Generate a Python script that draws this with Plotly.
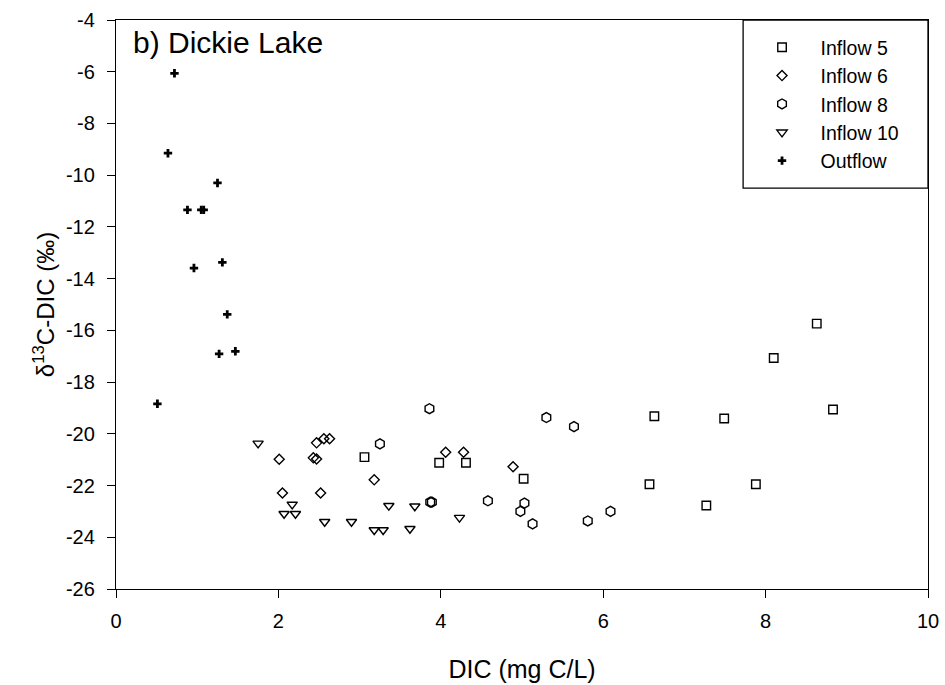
import plotly.graph_objects as go

# DIC (mg C/L) and d13C-DIC (permil) per sampling site
inflow5_dic = [3.06, 3.98, 4.31, 5.02, 6.57, 6.63, 7.27, 7.49, 7.88, 8.10, 8.63, 8.83]
inflow5_d13c = [-20.90, -21.12, -21.12, -21.74, -21.95, -19.32, -22.77, -19.41, -21.95, -17.07, -15.74, -19.06]

inflow6_dic = [2.01, 2.05, 2.43, 2.47, 2.47, 2.52, 2.56, 2.63, 3.18, 4.06, 4.28, 4.89]
inflow6_d13c = [-20.98, -22.29, -20.93, -20.97, -20.35, -22.29, -20.19, -20.19, -21.78, -20.71, -20.71, -21.27]

inflow8_dic = [3.25, 3.86, 3.87, 3.89, 4.58, 4.98, 5.03, 5.13, 5.30, 5.64, 5.81, 6.09]
inflow8_d13c = [-20.39, -19.03, -22.64, -22.64, -22.59, -23.00, -22.68, -23.48, -19.37, -19.72, -23.37, -23.00]

inflow10_dic = [1.75, 2.07, 2.17, 2.21, 2.57, 2.90, 3.18, 3.29, 3.36, 3.62, 3.68, 4.23]
inflow10_d13c = [-20.37, -23.09, -22.73, -23.09, -23.40, -23.40, -23.72, -23.72, -22.78, -23.67, -22.80, -23.24]

outflow_dic = [0.72, 0.64, 1.25, 0.88, 1.05, 1.08, 0.96, 1.31, 1.37, 1.27, 1.47, 0.51]
outflow_d13c = [-6.06, -9.15, -10.30, -11.34, -11.34, -11.34, -13.59, -13.37, -15.38, -16.91, -16.81, -18.84]

series_names = ["Inflow 5", "Inflow 6", "Inflow 8", "Inflow 10", "Outflow"]

x_ticks = [0, 2, 4, 6, 8, 10]
y_ticks = [-4, -6, -8, -10, -12, -14, -16, -18, -20, -22, -24, -26]

FONT = "Liberation Sans, Arial, sans-serif"

fig = go.Figure()

styles = [
    (inflow5_dic, inflow5_d13c, "square-open", 8.5),
    (inflow6_dic, inflow6_d13c, "diamond-open", 7.7),
    (inflow8_dic, inflow8_d13c, "hexagon-open", 10),
    (inflow10_dic, inflow10_d13c, "triangle-down-open", 9),
]
for name, (xs, ys, sym, sz) in zip(series_names[:4], styles):
    fig.add_trace(go.Scatter(
        x=xs, y=ys, mode="markers", name=name,
        marker=dict(symbol=sym, size=sz, color="black",
                    line=dict(color="black", width=1.4)),
    ))

fig.add_trace(go.Scatter(
    x=outflow_dic, y=outflow_d13c, mode="markers", name=series_names[4],
    marker=dict(symbol="cross", size=7, color="black", line=dict(width=0)),
))

axis_common = dict(
    showline=True, linecolor="black", linewidth=1.3, mirror=True,
    ticks="outside", ticklen=8, tickwidth=1.2, tickcolor="black",
    showgrid=False, zeroline=False, automargin=False,
    tickfont=dict(family=FONT, size=20, color="black"),
)

fig.update_xaxes(
    range=[0, 10], tickvals=x_ticks, ticktext=[str(v) for v in x_ticks],
    ticklabelstandoff=6,
    title=dict(text="DIC (mg C/L)", font=dict(family=FONT, size=25, color="black"),
               standoff=29),
    **axis_common,
)
fig.update_yaxes(
    range=[-26, -4], tickvals=y_ticks, ticktext=[str(v) for v in y_ticks],
    ticklabelstandoff=8,
    title=dict(text="δ<sup>13</sup>C-DIC (‰)",
               font=dict(family=FONT, size=24, color="black"), standoff=4),
    **axis_common,
)

# panel label
fig.add_annotation(
    text="b) Dickie Lake", xref="paper", yref="paper",
    x=0.0185, y=0.961, xanchor="left", yanchor="middle", showarrow=False,
    font=dict(family=FONT, size=30, color="black"),
)

# legend frame
fig.add_shape(
    type="rect", xref="paper", yref="paper",
    x0=0.7723, x1=1.0, y0=0.7047, y1=1.0,
    line=dict(color="black", width=1.3), fillcolor="rgba(0,0,0,0)",
)

fig.update_layout(
    width=945, height=685,
    margin=dict(l=116, r=17, t=20, b=96, autoexpand=False),
    paper_bgcolor="white", plot_bgcolor="white",
    showlegend=True,
    legend=dict(
        xref="container", yref="container",
        x=0.7868, y=0.959, xanchor="left", yanchor="top",
        bgcolor="rgba(0,0,0,0)", borderwidth=0, itemwidth=67,
        font=dict(family=FONT, size=19.5, color="black"),
    ),
    font=dict(family=FONT, color="black"),
)

fig.write_html("out.html")
